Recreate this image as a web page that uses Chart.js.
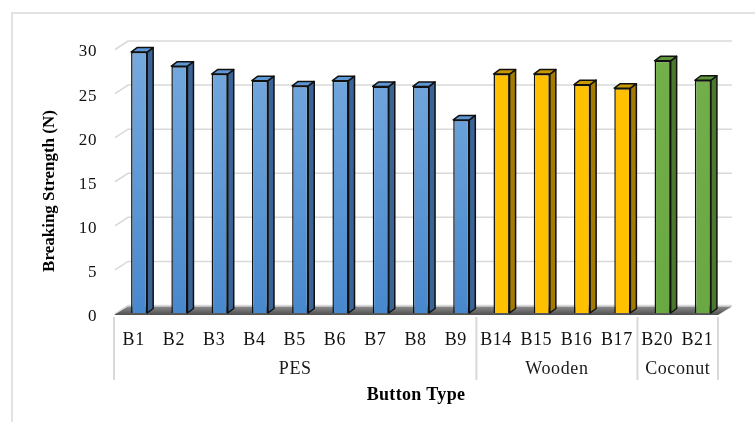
<!DOCTYPE html>
<html>
<head>
<meta charset="utf-8">
<script src="https://cdn.jsdelivr.net/npm/chart.js@4/dist/chart.umd.min.js"></script>
<style>
  html, body { margin: 0; padding: 0; background: #ffffff; }
  #wrap { width: 755px; height: 422px; }
</style>
</head>
<body>
<div id="wrap"><canvas id="c" width="755" height="422"></canvas></div>
<script>
// Button categories, their material groups and measured breaking strength
const categories = ['B1', 'B2', 'B3', 'B4', 'B5', 'B6', 'B7', 'B8', 'B9', 'B14', 'B15', 'B16', 'B17', 'B20', 'B21'];
const groupNames = ['PES', 'Wooden', 'Coconut'];
const groupSizes = [9, 4, 2];
const strength = [29.6, 28.0, 27.1, 26.35, 25.75, 26.35, 25.7, 25.7, 21.9, 27.1, 27.1, 25.9, 25.5, 28.6, 26.4];
const yMin = 0, yMax = 30, yStep = 5;
const yTitle = 'Breaking Strength (N)';
const xTitle = 'Button Type';

// Look of the pseudo-3D columns, one entry per material group
const palette = [
  { front: ['#76aade', '#4888cd'], side: '#3a6496', top: '#5e97d5' },
  { front: ['#ffc000', '#ffc000'], side: '#a47b00', top: '#c99700' },
  { front: ['#73af4b', '#6aa843'], side: '#4a792c', top: '#5c9638' }
];
const groupIndex = [];
groupSizes.forEach((n, g) => { for (let k = 0; k < n; k++) groupIndex.push(g); });

const SERIF = '"Liberation Serif", "Times New Roman", serif';
const barDepth = { dx: 6, dy: -4.5 };   // extrusion of each column
const wallDepth = { dx: 14, dy: -8.5 }; // depth of the back wall
const barShift = 5;                      // columns sit slightly right of their slot
const gridColor = '#d9d9d9';
const outline = '#111111';

function frontFill(ctx) {
  const chart = ctx.chart;
  const p = palette[groupIndex[ctx.dataIndex]];
  const area = chart.chartArea;
  if (!area) return p.front[0];
  const g = chart.ctx.createLinearGradient(0, area.top, 0, area.bottom);
  g.addColorStop(0, p.front[0]);
  g.addColorStop(1, p.front[1]);
  return g;
}

const scenery = {
  id: 'scenery',
  beforeDraw(chart) {
    // slightly airy lettering for the serif labels
    chart.ctx.letterSpacing = '0.6px';
  },
  beforeDatasetsDraw(chart) {
    const { ctx, chartArea, scales } = chart;
    const y = scales.y;
    const left = chartArea.left - barShift;
    const right = chartArea.right - barShift;
    ctx.save();
    // back wall and left wall gridlines
    ctx.strokeStyle = gridColor;
    ctx.lineWidth = 1.5;
    y.ticks.forEach(t => {
      const yf = y.getPixelForValue(t.value) + 1;
      ctx.beginPath();
      ctx.moveTo(left + 1, yf);
      ctx.lineTo(left + wallDepth.dx, yf + wallDepth.dy);
      ctx.lineTo(right + wallDepth.dx, yf + wallDepth.dy);
      ctx.stroke();
    });
    // floor
    const yb = y.getPixelForValue(yMin) + 2;
    const fg = ctx.createLinearGradient(0, yb + wallDepth.dy, 0, yb);
    fg.addColorStop(0, '#8a8a8a');
    fg.addColorStop(1, '#4f4f4f');
    ctx.fillStyle = fg;
    ctx.beginPath();
    ctx.moveTo(left, yb);
    ctx.lineTo(right, yb);
    ctx.lineTo(right + wallDepth.dx, yb + wallDepth.dy);
    ctx.lineTo(left + wallDepth.dx, yb + wallDepth.dy);
    ctx.closePath();
    ctx.fill();
    ctx.restore();
  },
  afterDatasetsDraw(chart) {
    const { ctx } = chart;
    const meta = chart.getDatasetMeta(0);
    ctx.save();
    ctx.strokeStyle = outline;
    ctx.lineWidth = 1.5;
    ctx.lineJoin = 'round';
    meta.data.forEach((bar, i) => {
      const { x, y, base, width } = bar.getProps(['x', 'y', 'base', 'width'], true);
      const p = palette[groupIndex[i]];
      const l = x - width / 2, r = x + width / 2;
      // right-hand side face
      ctx.fillStyle = p.side;
      ctx.beginPath();
      ctx.moveTo(r, y);
      ctx.lineTo(r + barDepth.dx, y + barDepth.dy);
      ctx.lineTo(r + barDepth.dx, base + barDepth.dy);
      ctx.lineTo(r, base);
      ctx.closePath();
      ctx.fill();
      ctx.stroke();
      // top face
      ctx.fillStyle = p.top;
      ctx.beginPath();
      ctx.moveTo(l, y);
      ctx.lineTo(l + barDepth.dx, y + barDepth.dy);
      ctx.lineTo(r + barDepth.dx, y + barDepth.dy);
      ctx.lineTo(r, y);
      ctx.closePath();
      ctx.fill();
      ctx.stroke();
    });
    ctx.restore();
  },
  afterDraw(chart) {
    const { ctx, scales, chartArea } = chart;
    const x = scales.x;
    const slot = x.width / categories.length;
    ctx.save();
    // outer frame
    ctx.strokeStyle = gridColor;
    ctx.lineWidth = 1.5;
    ctx.beginPath();
    ctx.moveTo(12, 422);
    ctx.lineTo(12, 13);
    ctx.lineTo(755, 13);
    ctx.stroke();
    // group separators and group names
    const sepTop = chartArea.bottom + 4, sepBottom = 380;
    ctx.lineWidth = 2;
    ctx.fillStyle = '#1a1a1a';
    ctx.font = '18px ' + SERIF;
    ctx.textAlign = 'center';
    ctx.textBaseline = 'middle';
    let start = 0;
    const edge = i => x.getPixelForValue(i) - slot / 2 - barShift;
    groupSizes.forEach((n, g) => {
      const a = edge(start), b = edge(start + n);
      ctx.beginPath();
      ctx.moveTo(a, sepTop);
      ctx.lineTo(a, sepBottom);
      ctx.stroke();
      ctx.fillText(groupNames[g], (a + b) / 2, 369);
      start += n;
    });
    const last = edge(categories.length);
    ctx.beginPath();
    ctx.moveTo(last, sepTop);
    ctx.lineTo(last, sepBottom);
    ctx.stroke();
    // axis titles
    ctx.fillStyle = '#000000';
    ctx.letterSpacing = '0.3px';
    ctx.font = 'bold 18px ' + SERIF;
    ctx.fillText(xTitle, (edge(0) + last) / 2, 395);
    ctx.letterSpacing = '0px';
    ctx.translate(50, 191);
    ctx.rotate(-Math.PI / 2);
    ctx.font = 'bold 17px ' + SERIF;
    ctx.fillText(yTitle, 0, 0);
    ctx.restore();
  }
};

new Chart(document.getElementById('c'), {
  type: 'bar',
  data: {
    labels: categories,
    datasets: [{
      data: strength,
      backgroundColor: frontFill,
      borderColor: outline,
      borderWidth: 1.5,
      barPercentage: 0.4,
      categoryPercentage: 1
    }]
  },
  options: {
    responsive: false,
    animation: false,
    devicePixelRatio: 1,
    layout: { padding: { top: 48.5, right: 32, bottom: 0, left: 0 } },
    plugins: { legend: { display: false }, tooltip: { enabled: false } },
    scales: {
      x: {
        grid: { display: false, drawTicks: false },
        border: { display: false },
        ticks: {
          color: '#111111',
          font: { family: SERIF, size: 18 },
          padding: 16,
          labelOffset: -barShift - 0.5,
          maxRotation: 0,
          autoSkip: false
        },
        afterFit(scale) { scale.height = 109; }
      },
      y: {
        min: yMin,
        max: yMax,
        grid: { display: false, drawTicks: false },
        border: { display: false },
        ticks: {
          stepSize: yStep,
          color: '#111111',
          font: { family: SERIF, size: 17 },
          padding: 22,
          labelOffset: 3.5
        },
        afterFit(scale) { scale.width = 119; }
      }
    }
  },
  plugins: [scenery]
});
</script>
</body>
</html>
